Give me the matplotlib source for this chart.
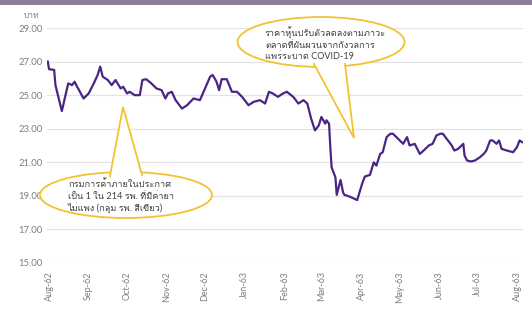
import pandas as pd
import matplotlib
matplotlib.use("Agg")
import matplotlib.pyplot as plt
from matplotlib import font_manager
from matplotlib.ft2font import FT2Font
from matplotlib.patches import Ellipse, Polygon, Rectangle

# ข้อมูลราคาหุ้น (บาท)
dates = [
    "2019-07-31", "2019-08-01", "2019-08-05", "2019-08-06", "2019-08-11", "2019-08-16",
    "2019-08-19", "2019-08-21", "2019-08-23", "2019-08-28", "2019-09-01", "2019-09-05",
    "2019-09-08", "2019-09-10", "2019-09-12", "2019-09-16", "2019-09-19", "2019-09-22",
    "2019-09-26", "2019-09-28", "2019-10-01", "2019-10-03", "2019-10-07", "2019-10-11",
    "2019-10-13", "2019-10-16", "2019-10-20", "2019-10-24", "2019-10-28", "2019-10-31",
    "2019-11-02", "2019-11-05", "2019-11-08", "2019-11-13", "2019-11-17", "2019-11-22",
    "2019-11-27", "2019-12-01", "2019-12-05", "2019-12-07", "2019-12-10", "2019-12-12",
    "2019-12-14", "2019-12-18", "2019-12-22", "2019-12-26", "2019-12-30", "2020-01-02",
    "2020-01-04", "2020-01-08", "2020-01-13", "2020-01-17", "2020-01-20", "2020-01-23",
    "2020-01-27", "2020-01-31", "2020-02-03", "2020-02-08", "2020-02-12", "2020-02-16",
    "2020-02-19", "2020-02-22", "2020-02-25", "2020-02-28", "2020-03-01", "2020-03-04",
    "2020-03-05", "2020-03-07", "2020-03-08", "2020-03-09", "2020-03-12", "2020-03-13",
    "2020-03-16", "2020-03-18", "2020-03-19", "2020-03-23", "2020-03-29", "2020-04-02",
    "2020-04-04", "2020-04-08", "2020-04-11", "2020-04-13", "2020-04-16", "2020-04-18",
    "2020-04-21", "2020-04-24", "2020-04-26", "2020-04-30", "2020-05-04", "2020-05-07",
    "2020-05-09", "2020-05-13", "2020-05-17", "2020-05-20", "2020-05-24", "2020-05-27",
    "2020-05-30", "2020-06-02", "2020-06-04", "2020-06-07", "2020-06-11", "2020-06-13",
    "2020-06-16", "2020-06-20", "2020-06-21", "2020-06-23", "2020-06-26", "2020-06-29",
    "2020-07-03", "2020-07-06", "2020-07-08", "2020-07-11", "2020-07-13", "2020-07-16",
    "2020-07-18", "2020-07-20", "2020-07-24", "2020-07-29", "2020-08-01", "2020-08-03",
    "2020-08-05",
]
prices = [
    27.0, 26.55, 26.5, 25.6, 24.05, 25.7,
    25.6, 25.8, 25.5, 24.8, 25.1, 25.7,
    26.2, 26.7, 26.1, 25.9, 25.6, 25.9,
    25.4, 25.5, 25.1, 25.2, 25.0, 25.0,
    25.9, 25.95, 25.7, 25.4, 25.3, 24.8,
    25.1, 25.2, 24.7, 24.2, 24.4, 24.8,
    24.7, 25.4, 26.1, 26.2, 25.8, 25.3,
    25.95, 25.95, 25.2, 25.2, 24.9, 24.6,
    24.4, 24.6, 24.7, 24.5, 25.2, 25.1,
    24.9, 25.1, 25.2, 24.9, 24.5, 24.7,
    24.5, 23.6, 22.9, 23.2, 23.7, 23.3,
    23.5, 23.3, 21.9, 20.7, 20.1, 19.06,
    19.95, 19.2, 19.06, 18.96, 18.75, 19.75,
    20.15, 20.25, 21.0, 20.8, 21.5, 21.6,
    22.5, 22.7, 22.7, 22.4, 22.1, 22.5,
    22.0, 22.1, 21.5, 21.7, 22.0, 22.1,
    22.6, 22.7, 22.7, 22.4, 22.0, 21.7,
    21.8, 22.1, 21.4, 21.1, 21.05, 21.1,
    21.3, 21.5, 21.7, 22.3, 22.3, 22.1,
    22.3, 21.8, 21.7, 21.6, 21.9, 22.3,
    22.2,
]
month_labels = ["Aug-62", "Sep-62", "Oct-62", "Nov-62", "Dec-62", "Jan-63", "Feb-63",
                "Mar-63", "Apr-63", "May-63", "Jun-63", "Jul-63", "Aug-63"]
y_ticks = [15, 17, 19, 21, 23, 25, 27, 29]

note_left = "กรมการค้าภายในประกาศ\nเป็น 1 ใน 214 รพ. ที่มีค่ายา\nไม่แพง (กลุ่ม รพ. สีเขียว)"
note_right = "ราคาหุ้นปรับตัวลดลงตามภาวะ\nตลาดที่ผันผวนจากกังวลการ\nแพร่ระบาด COVID-19"


def find_thai_font():
    for f in font_manager.fontManager.ttflist:
        try:
            if 0x0E01 in FT2Font(f.fname).get_charmap():
                return f.name
        except Exception:
            continue
    return "DejaVu Sans"


thai_font = find_thai_font()
plt.rcParams["font.family"] = ["Lato", thai_font, "DejaVu Sans"]

W, H = 532, 309
fig = plt.figure(figsize=(W / 100, H / 100), dpi=100)
fig.patch.set_facecolor("white")

# แถบด้านบน
fig.add_artist(Rectangle((0, 1 - 5 / H), 1, 5 / H, transform=fig.transFigure,
                         facecolor="#8e7e9b", edgecolor="none"))

ax_l, ax_r, ax_t, ax_b = 47, 523, 28, 263
ax = fig.add_axes([ax_l / W, 1 - ax_b / H, (ax_r - ax_l) / W, (ax_b - ax_t) / H])

x = pd.to_datetime(dates)
ax.plot(x, prices, color="#4a2585", lw=1.6, zorder=3)

start = pd.Timestamp("2019-08-01")
ax.set_xlim(start - pd.Timedelta(days=1.6), start + pd.Timedelta(days=370.7))
ax.set_ylim(15, 29)

ticks = pd.date_range("2019-08-01", periods=len(month_labels), freq="MS")
ax.set_xticks(ticks)
ax.set_xticklabels(month_labels, rotation=90, fontsize=6.5, color="#7f7f7f")
ax.set_yticks(y_ticks)
ax.set_yticklabels([f"{v:.2f}" for v in y_ticks], fontsize=6.8, color="#7f7f7f")
ax.tick_params(axis="both", length=0)
ax.tick_params(axis="x", pad=6)
ax.tick_params(axis="y", pad=3)

ax.grid(axis="y", color="#e3e3e3", lw=0.9)
ax.set_axisbelow(True)
for s in ax.spines.values():
    s.set_visible(False)

fig.text(32 / W, 1 - 16 / H, "บาท", fontsize=6, color="#7f7f7f", ha="center", va="center")


def px(xp, yp):
    return ((xp - ax_l) / (ax_r - ax_l), (ax_b - yp) / (ax_b - ax_t))


def callout(center, w, h, apex, base1, base2, text, text_xy):
    gold = "#f3c232"
    cx, cy = px(*center)
    ell = Ellipse((cx, cy), w / (ax_r - ax_l), h / (ax_b - ax_t), transform=ax.transAxes,
                  facecolor="white", edgecolor=gold, lw=1.3, zorder=5, clip_on=False)
    ax.add_patch(ell)
    a, b1, b2 = px(*apex), px(*base1), px(*base2)
    # ส่วนหางของกรอบข้อความ
    inner1 = (b1[0], b1[1] + (cy - b1[1]) * 0.25)
    inner2 = (b2[0], b2[1] + (cy - b2[1]) * 0.25)
    ax.add_patch(Polygon([inner1, b1, a, b2, inner2], closed=True, transform=ax.transAxes,
                         facecolor="white", edgecolor="none", zorder=6, clip_on=False))
    ax.plot([b1[0], a[0], b2[0]], [b1[1], a[1], b2[1]], transform=ax.transAxes,
            color=gold, lw=1.3, zorder=7, clip_on=False, solid_joinstyle="miter")
    tx, ty = px(*text_xy)
    ax.text(tx, ty, text, transform=ax.transAxes, fontsize=6.6, color="#404040",
            ha="left", va="center", linespacing=1.3, zorder=8, clip_on=False)


callout((126, 195), 172, 46, (123, 107), (110, 176), (142, 175), note_left, (68, 197))
callout((321, 42), 167, 50, (354, 138), (314, 64), (345, 64), note_right, (265, 44))

fig.savefig("out.png", dpi=100, facecolor="white")
